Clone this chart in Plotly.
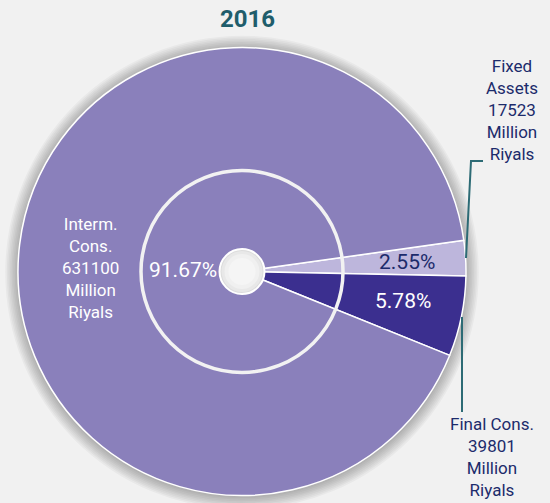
import plotly.graph_objects as go

# ---- data ----
title_text = "2016"
categories = ["Fixed Assets", "Final Cons.", "Interm. Cons."]
values = [17523, 39801, 631100]
label_names = ["Fixed<br>Assets", "Final Cons.", "Interm.<br>Cons."]
unit_text = "Million<br>Riyals"
slice_colors = ["#bdb6dc", "#3b2f8f", "#8a80bb"]

W, H = 550, 503
BG = "#f1f1f1"

def px(x):
    return x / W

def py(y):
    return 1 - y / H

# pie geometry (pixels)
cx, cy, r = 242, 271.5, 224

fig = go.Figure()
fig.add_trace(go.Pie(
    labels=categories,
    values=values,
    sort=False,
    direction="clockwise",
    rotation=82,
    marker=dict(colors=slice_colors, line=dict(color="white", width=1.5)),
    textinfo="none",
    hoverinfo="label+value+percent",
    showlegend=False,
    domain=dict(x=[px(cx - r), px(cx + r)], y=[py(cy + r), py(cy - r)]),
))

total = sum(values)
pcts = [f"{v / total * 100:.2f}%" for v in values]

shapes = []
# soft drop shadow under the pie
for k in range(8, 0, -1):
    rr = r + k * 1.6
    shapes.append(dict(type="circle", xref="paper", yref="paper", layer="below",
                       x0=px(cx - rr), x1=px(cx + rr), y0=py(cy + rr + 1), y1=py(cy - rr + 1),
                       fillcolor="rgba(0,0,0,0.035)", line=dict(width=0)))
# inner white ring
ring = 101
shapes.append(dict(type="circle", xref="paper", yref="paper", layer="above",
                   x0=px(cx - ring), x1=px(cx + ring), y0=py(cy + ring), y1=py(cy - ring),
                   line=dict(color="#f2f2f2", width=3.5)))
# centre knob
knob = 22.5
for k, col in [(0, "#dcdcdc"), (2, "#e8e8e8"), (5, "#f0f0f0"), (9, "#f5f5f5")]:
    rr = knob - k
    shapes.append(dict(type="circle", xref="paper", yref="paper", layer="above",
                       x0=px(cx - rr), x1=px(cx + rr), y0=py(cy + rr), y1=py(cy - rr),
                       fillcolor=col, line=dict(width=0)))
shapes.append(dict(type="circle", xref="paper", yref="paper", layer="above",
                   x0=px(cx - knob), x1=px(cx + knob), y0=py(cy + knob), y1=py(cy - knob),
                   line=dict(color="white", width=2)))
# leader lines
teal = "#2d6b75"
shapes.append(dict(type="path", xref="paper", yref="paper", layer="above",
                   path=f"M {px(483)},{py(161)} L {px(471)},{py(161)} L {px(466)},{py(258)}",
                   line=dict(color=teal, width=2)))
shapes.append(dict(type="line", xref="paper", yref="paper", layer="above",
                   x0=px(462), x1=px(462), y0=py(317), y1=py(412),
                   line=dict(color=teal, width=2)))

navy = "#1c2b6b"
font_family = "Roboto, 'Open Sans', sans-serif"
annotations = [
    dict(text=f"{label_names[0]}<br>{values[0]}<br>{unit_text}", x=px(512), y=py(110),
         font=dict(color=navy, size=17)),
    dict(text=f"{label_names[1]}<br>{values[1]}<br>{unit_text}", x=px(492), y=py(457),
         font=dict(color=navy, size=17)),
    dict(text=f"{label_names[2]}<br>{values[2]}<br>{unit_text}", x=px(90), y=py(268),
         font=dict(color="white", size=17)),
    dict(text=pcts[2], x=px(183), y=py(270), font=dict(color="white", size=21)),
    dict(text=pcts[0], x=px(407), y=py(262), font=dict(color=navy, size=21)),
    dict(text=pcts[1], x=px(403), y=py(301), font=dict(color="white", size=21)),
    dict(text=f"<b>{title_text}</b>", x=px(247), y=py(19),
         font=dict(color="#1f5d6b", size=24)),
]
for a in annotations:
    a.update(xref="paper", yref="paper", showarrow=False, xanchor="center", yanchor="middle")

fig.update_layout(
    width=W, height=H,
    margin=dict(l=0, r=0, t=0, b=0),
    paper_bgcolor=BG, plot_bgcolor=BG,
    font=dict(family=font_family),
    shapes=shapes,
    annotations=annotations,
)

fig.write_html("out.html",
               config={"displayModeBar": False},
               post_script="document.body.style.margin='0px';document.body.style.overflow='hidden';")
